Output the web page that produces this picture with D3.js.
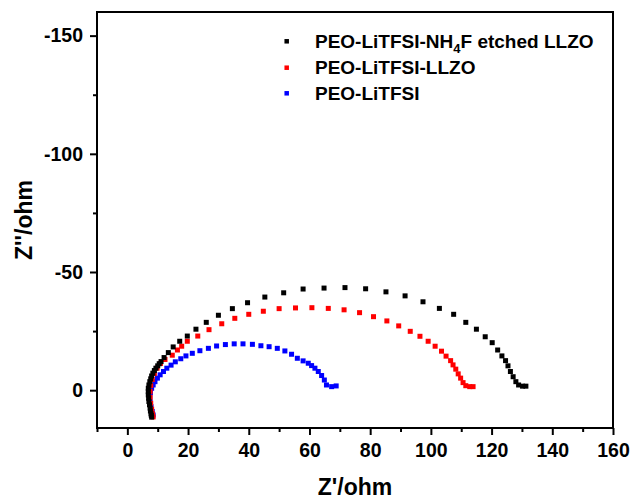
<!DOCTYPE html>
<html>
<head>
<meta charset="utf-8">
<script src="https://cdn.jsdelivr.net/npm/d3@7"></script>
<style>
html,body{margin:0;padding:0;background:#fff;}
svg{display:block;font-family:"Liberation Sans",Arial,sans-serif;font-weight:bold;}
</style>
</head>
<body>
<svg id="chart" width="633" height="499"></svg>
<script>
// ---- data (Z' in ohm, Z'' in ohm) ----
const etchedRe = [8.0,7.9,7.8,7.6,7.5,7.3,7.1,7.0,6.9,6.9,6.9,7.1,7.4,7.7,8.0,8.4,8.9,9.4,10.0,10.5,11.1,12.1,13.5,15.1,17.25,19.75,22.6,26.0,30.0,34.6,39.6,45.3,51.5,57.9,64.8,71.7,78.5,85.2,91.5,97.4,102.8,107.5,111.5,115.0,117.9,120.2,122.0,123.4,124.6,125.4,126.2,127.1,128.0,128.9,130.2,131.3];
const etchedIm = [11.4,10.7,10.0,8.8,7.6,6.2,4.8,3.4,2.0,0.6,-0.8,-2.2,-3.6,-4.8,-6.0,-7.2,-8.3,-9.3,-10.3,-11.2,-12.1,-13.8,-15.9,-18.3,-20.7,-22.9,-25.8,-28.7,-31.7,-34.5,-37.0,-39.4,-41.2,-42.8,-43.2,-43.4,-42.9,-41.6,-39.9,-37.4,-34.6,-32.1,-28.7,-25.8,-22.6,-20.1,-17.0,-14.5,-12.5,-10.3,-7.9,-5.7,-3.6,-2.2,-1.7,-1.7];

const llzoRe = [8.5,8.3,8.0,7.7,7.5,7.5,7.7,8.2,8.9,9.8,10.9,12.4,14.8,16.5,17.9,19.75,23.2,26.9,31.1,35.4,40.0,44.8,50.0,55.4,60.8,66.2,71.4,76.5,81.1,85.5,89.4,93.2,96.4,99.1,101.4,103.5,105.0,106.5,107.3,108.2,109.0,109.8,110.6,111.5,112.8,113.9];
const llzoIm = [11.3,10.0,8.0,5.5,3.0,0.5,-2.0,-4.5,-7.0,-9.3,-11.3,-13.0,-14.8,-17.0,-18.6,-20.7,-22.9,-25.6,-28.1,-30.4,-32.1,-33.4,-34.5,-34.8,-34.9,-34.6,-34.0,-32.8,-31.1,-29.3,-27.2,-24.9,-22.8,-20.7,-18.6,-16.5,-14.4,-12.5,-10.7,-8.9,-6.9,-5.1,-3.2,-1.9,-1.5,-1.5];

const peoRe = [8.5,8.2,7.8,7.5,7.4,7.6,8.0,8.5,9.1,9.9,10.8,11.9,13.0,14.4,15.8,17.6,19.3,21.4,23.9,26.7,29.4,32.3,35.2,38.1,41.2,44.0,46.7,49.4,51.9,54.1,56.0,57.9,59.6,60.7,61.8,62.9,64.0,64.9,65.6,67.3,68.8];
const peoIm = [10.5,9.0,7.0,5.0,3.0,1.0,-0.8,-2.2,-3.6,-5.1,-6.5,-7.9,-9.3,-10.6,-12.0,-13.3,-14.5,-15.6,-16.7,-17.7,-18.7,-19.3,-19.6,-19.6,-19.4,-18.8,-18.4,-17.7,-16.6,-15.2,-13.5,-12.4,-11.4,-10.4,-9.3,-7.9,-6.2,-4.3,-2.2,-1.5,-1.8];

const seriesNames = ["PEO-LiTFSI-NH4F etched LLZO","PEO-LiTFSI-LLZO","PEO-LiTFSI"];
const seriesColors = ["#000000","#ff0000","#0000ff"];
const xMajorTicks = [0,20,40,60,80,100,120,140,160];
const xMinorTicks = [-10,10,30,50,70,90,110,130,150];
const yMajorTicks = [-150,-100,-50,0];
const yMinorTicks = [-125,-75,-25];

// ---- layout ----
const svg = d3.select("#chart");
const L = 97, R = 613, T = 12, B = 428;
const x = d3.scaleLinear().domain([-10,160]).range([L,R]);
const y = d3.scaleLinear().domain([-160,16]).range([T,B]);

// frame
svg.append("rect").attr("x",L).attr("y",T).attr("width",R-L).attr("height",B-T)
  .attr("fill","none").attr("stroke","#000").attr("stroke-width",2);

// x axis
const gx = svg.append("g").attr("transform",`translate(0,${B})`);
gx.call(d3.axisBottom(x).tickValues(xMajorTicks).tickSize(7).tickPadding(8).tickFormat(d=>String(d)));
const gxm = svg.append("g").attr("transform",`translate(0,${B})`);
gxm.call(d3.axisBottom(x).tickValues(xMinorTicks).tickSize(4).tickFormat(""));
// y axis
const gy = svg.append("g").attr("transform",`translate(${L},0)`);
gy.call(d3.axisLeft(y).tickValues(yMajorTicks).tickSize(7).tickPadding(7).tickFormat(d=>String(d)));
const gym = svg.append("g").attr("transform",`translate(${L},0)`);
gym.call(d3.axisLeft(y).tickValues(yMinorTicks).tickSize(4).tickFormat(""));

svg.selectAll(".domain").remove();
svg.selectAll(".tick line").attr("stroke","#000").attr("stroke-width",2);
svg.selectAll(".tick text").attr("fill","#000").style("font-size","19.5px")
  .style("font-family","'Liberation Sans',Arial,sans-serif").style("font-weight","bold");

// axis titles
svg.append("text").attr("x",(L+R)/2).attr("y",495).attr("text-anchor","middle")
  .style("font-size","23px").text("Z'/ohm");
svg.append("text").attr("transform","translate(32,220) rotate(-90)").attr("text-anchor","middle")
  .style("font-size","23px").text("Z''/ohm");

// data marks
const sz = 5;
const sets = [
  {re: peoRe, im: peoIm, c: seriesColors[2]},
  {re: llzoRe, im: llzoIm, c: seriesColors[1]},
  {re: etchedRe, im: etchedIm, c: seriesColors[0]}
];
sets.forEach(s=>{
  const pts = s.re.map((v,i)=>[v,s.im[i]]);
  svg.append("g").selectAll("rect").data(pts).join("rect")
    .attr("x",d=>x(d[0])-sz/2).attr("y",d=>y(d[1])-sz/2)
    .attr("width",sz).attr("height",sz).attr("fill",s.c);
});

// legend
const legY = [41.3,67.7,93.3];
const lg = svg.append("g");
seriesNames.forEach((n,i)=>{
  lg.append("rect").attr("x",286.7-2.25).attr("y",legY[i]-2.25).attr("width",4.5).attr("height",4.5)
    .attr("fill",seriesColors[i]);
  const t = lg.append("text").attr("x",315).attr("y",legY[i]+6.5).style("font-size","19px");
  if(n.indexOf("NH4F")>=0){
    const parts = n.split("NH4F");
    t.append("tspan").text(parts[0]+"NH");
    t.append("tspan").attr("dy",5).style("font-size","13px").text("4");
    t.append("tspan").attr("dy",-5).text("F"+parts[1]);
  } else {
    t.text(n);
  }
});
</script>
</body>
</html>
